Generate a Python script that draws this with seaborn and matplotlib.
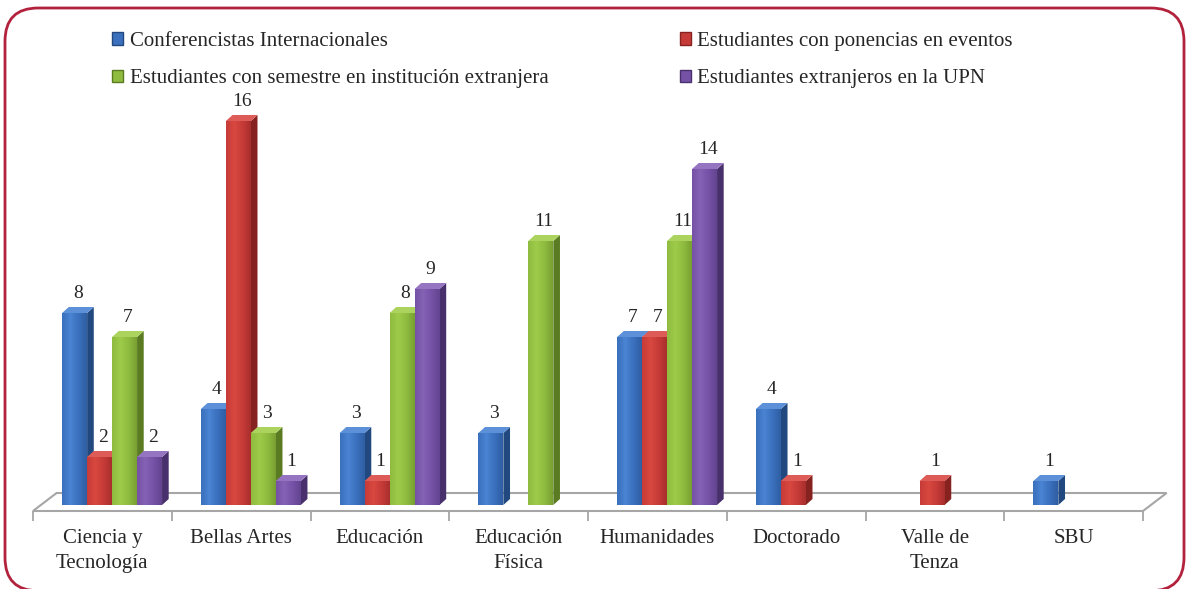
import numpy as np
import pandas as pd
import seaborn as sns
import matplotlib.pyplot as plt
from matplotlib.patches import Polygon, Patch, FancyBboxPatch
from matplotlib.colors import LinearSegmentedColormap

categorias = ['Ciencia y\nTecnología', 'Bellas Artes', 'Educación', 'Educación\nFísica',
              'Humanidades', 'Doctorado', 'Valle de\nTenza', 'SBU']
series = ['Conferencistas Internacionales',
          'Estudiantes con ponencias en eventos',
          'Estudiantes con semestre en institución extranjera',
          'Estudiantes extranjeros en la UPN']
conferencistas = [8, 4, 3, 3, 7, 4, 0, 1]
ponencias = [2, 16, 1, 0, 7, 1, 1, 0]
semestre = [7, 3, 8, 11, 11, 0, 0, 0]
extranjeros = [2, 1, 9, 0, 14, 0, 0, 0]

colores = ['#3a70be', '#c63b38', '#8fbc3f', '#7652a6']
claros = ['#4a84d2', '#d8483f', '#9fcb4a', '#8462b4']
oscuros = ['#2f5fa3', '#a82f2d', '#789f32', '#634490']
laterales = ['#22497f', '#862220', '#5b7b22', '#48306c']
topes = ['#5c90d8', '#dd5c57', '#abd35e', '#9575c2']

filas = []
for s, vals in zip(series, [conferencistas, ponencias, semestre, extranjeros]):
    for c, v in zip(categorias, vals):
        filas.append({'cat': c, 'serie': s, 'val': v})
df = pd.DataFrame(filas)

sns.set_style('white')
plt.rcParams['font.family'] = ['Liberation Serif', 'DejaVu Serif']

fig = plt.figure(figsize=(11.87, 5.89), dpi=100)
ax = fig.add_axes([33 / 1187, 1 - 511 / 589, 1110 / 1187, (511 - 97) / 589])

sns.barplot(data=df, x='cat', y='val', hue='serie', order=categorias, hue_order=series,
            palette=colores, saturation=1, width=0.72, linewidth=0, errorbar=None,
            legend=False, ax=ax)

# falso 3D: caras laterales, tapas y degradado
shift, dx, dy = 0.07, 0.048, 0.25
grad = np.linspace(0, 1, 64).reshape(1, -1)
for i, cont in enumerate(ax.containers):
    cmap = LinearSegmentedColormap.from_list('g%d' % i, [colores[i], claros[i], colores[i], oscuros[i]])
    for p in cont.patches:
        p.set_x(p.get_x() + shift)
        h = p.get_height()
        if h == 0:
            p.set_visible(False)
            continue
        x0, w = p.get_x(), p.get_width()
        z = 3 + i * 0.1
        p.set_zorder(z + 0.05)
        im = ax.imshow(grad, cmap=cmap, extent=(x0, x0 + w, 0, h), aspect='auto',
                       interpolation='bilinear', zorder=z + 0.051)
        im.set_clip_path(p)
        ax.add_patch(Polygon([(x0 + w, 0), (x0 + w + dx, dy), (x0 + w + dx, h + dy), (x0 + w, h)],
                             facecolor=laterales[i], lw=0, zorder=z))
        ax.add_patch(Polygon([(x0, h), (x0 + dx, h + dy), (x0 + w + dx, h + dy), (x0 + w, h)],
                             facecolor=topes[i], lw=0, zorder=z + 0.06))
        ax.text(x0 + w / 2 + dx / 2, h + 0.8, str(int(round(h))),
                ha='center', va='center', fontsize=14, zorder=5)

ax.set_xlim(-0.5, 7.5)
ax.set_ylim(-0.25, 17)

# piso
ddx = 0.17
piso = Polygon([(-0.5, -0.25), (7.5, -0.25), (7.5 + ddx, 0.5), (-0.5 + ddx, 0.5)],
               facecolor='white', edgecolor='#a6a6a6', lw=1.5, zorder=1, clip_on=False)
ax.add_patch(piso)

for s in ax.spines.values():
    s.set_visible(False)
ax.set_yticks([])
ax.set_xticks(range(len(categorias)))
ax.set_xticklabels(categorias, linespacing=1.45)
ax.set_xticks(np.arange(-0.5, 8, 1), minor=True)
ax.tick_params(axis='x', which='minor', length=7, width=1.3, color='#a6a6a6', bottom=True)
ax.tick_params(axis='x', which='major', length=0, pad=13, labelsize=15)
ax.set_xlabel('')
ax.set_ylabel('')

orden = [0, 2, 1, 3]
handles = [Patch(facecolor=colores[k], edgecolor=laterales[k], label=series[k]) for k in orden]
fig.legend(handles=handles, ncol=2, loc='upper left', bbox_to_anchor=(112 / 1187, 1 - 32 / 589),
           frameon=False, fontsize=15, handlelength=0.55, handleheight=0.55, handletextpad=0.3,
           labelspacing=0.88, columnspacing=6.3, borderpad=0, borderaxespad=0)

marco = FancyBboxPatch((5 / 1187, -0.003), 1 - 8 / 1187, 1 - 8 / 589 + 0.003,
                       boxstyle='round,pad=0,rounding_size=0.028', mutation_aspect=1187 / 589,
                       transform=fig.transFigure, facecolor='none', edgecolor='#b3223c', lw=2)
fig.patches.append(marco)

fig.savefig('out.png', dpi=100)
